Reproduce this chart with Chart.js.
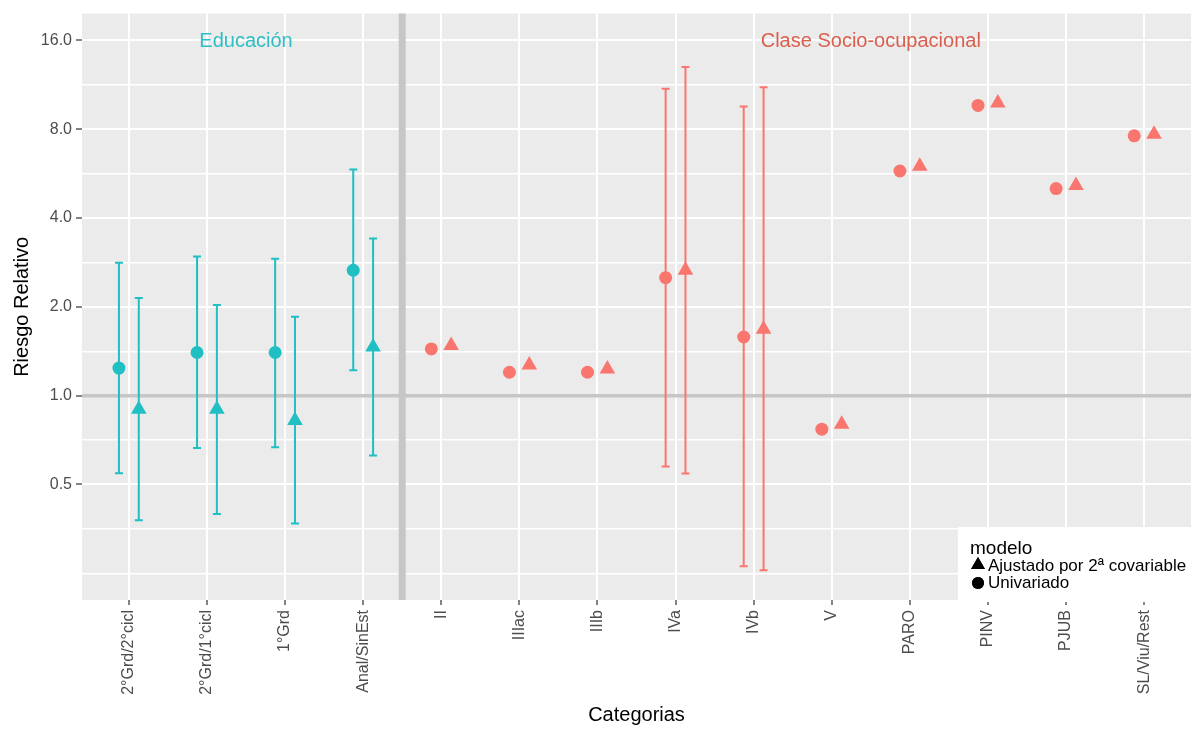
<!DOCTYPE html>
<html>
<head>
<meta charset="utf-8">
<script src="https://cdn.jsdelivr.net/npm/chart.js@4/dist/chart.umd.min.js"></script>
<style>
  body { margin: 0; background: #fff; }
</style>
</head>
<body>
<canvas id="rrChart" width="1200" height="731"></canvas>
<script>
// categorias y grupo de cada una
const categorias = ['2°Grd/2°cicl', '2°Grd/1°cicl', '1°Grd', 'Anal/SinEst', 'II', 'IIIac', 'IIIb',
    'IVa', 'IVb', 'V', 'PARO', 'PINV', 'PJUB', 'SL/Viu/Rest'];
const grupo = ['edu', 'edu', 'edu', 'edu', 'soc', 'soc', 'soc', 'soc', 'soc', 'soc', 'soc', 'soc', 'soc', 'soc'];

// modelo univariado
const univariado = [1.24, 1.40, 1.40, 2.66, 1.44, 1.20, 1.20, 2.51, 1.58, 0.77, 5.77, 9.62, 5.03, 7.59];
const uniInf = [0.546, 0.665, 0.669, 1.22, null, null, null, 0.575, 0.264, null, null, null, null, null];
const uniSup = [2.82, 2.96, 2.91, 5.84, null, null, null, 10.95, 9.55, null, null, null, null, null];

// ajustado por 2a covariable
const ajustado = [0.90, 0.90, 0.824, 1.46, 1.48, 1.27, 1.23, 2.66, 1.68, 0.80, 5.99, 9.80, 5.15, 7.69];
const ajuInf = [0.378, 0.397, 0.369, 0.627, null, null, null, 0.545, 0.256, null, null, null, null, null];
const ajuSup = [2.14, 2.03, 1.85, 3.41, null, null, null, 13.0, 11.1, null, null, null, null, null];

// ticks del eje y (log2)
const yGrid = [0.25, 0.3536, 0.5, 0.7071, 1, 1.4142, 2, 2.8284, 4, 5.6569, 8, 11.3137, 16];
const yEtiquetas = [0.5, 1, 2, 4, 8, 16];

const colores = { edu: '#1FBFC4', soc: '#F8766D' };
const colorPuntos = grupo.map(g => colores[g]);
const dodge = 0.127;

Chart.defaults.font.family = "'Liberation Sans', Arial, sans-serif";

const fondoPlugin = {
    id: 'fondo',
    beforeDraw(chart) {
        const { ctx, chartArea: a } = chart;
        ctx.save();
        ctx.fillStyle = '#fff';
        ctx.fillRect(0, 0, chart.width, chart.height);
        ctx.fillStyle = '#EBEBEB';
        ctx.fillRect(a.left, a.top, a.right - a.left, a.bottom - a.top);
        ctx.restore();
    },
    beforeDatasetsDraw(chart) {
        const { ctx, chartArea: a, scales: { x, y } } = chart;
        ctx.save();
        // lineas de referencia
        ctx.strokeStyle = '#C6C6C6';
        ctx.lineWidth = 3.5;
        ctx.beginPath();
        ctx.moveTo(a.left, y.getPixelForValue(1));
        ctx.lineTo(a.right, y.getPixelForValue(1));
        ctx.stroke();
        ctx.lineWidth = 7;
        ctx.beginPath();
        ctx.moveTo(x.getPixelForValue(3.5), a.top);
        ctx.lineTo(x.getPixelForValue(3.5), a.bottom);
        ctx.stroke();

        // barras de error
        const series = [[uniInf, uniSup, -dodge], [ajuInf, ajuSup, dodge]];
        ctx.lineWidth = 2;
        series.forEach(([inf, sup, dx]) => {
            inf.forEach((lo, i) => {
                if (lo == null) return;
                const px = x.getPixelForValue(i + dx);
                const y1 = y.getPixelForValue(lo);
                const y2 = y.getPixelForValue(sup[i]);
                ctx.strokeStyle = colorPuntos[i];
                ctx.beginPath();
                ctx.moveTo(px, y1); ctx.lineTo(px, y2);
                ctx.moveTo(px - 4, y1); ctx.lineTo(px + 4, y1);
                ctx.moveTo(px - 4, y2); ctx.lineTo(px + 4, y2);
                ctx.stroke();
            });
        });

        // titulos de grupo
        ctx.font = "20px 'Liberation Sans', Arial, sans-serif";
        ctx.textAlign = 'center';
        ctx.textBaseline = 'middle';
        ctx.fillStyle = '#2DBFC4';
        ctx.fillText('Educación', x.getPixelForValue(1.5), y.getPixelForValue(16) + 1);
        ctx.fillStyle = '#D9604F';
        ctx.fillText('Clase Socio-ocupacional', x.getPixelForValue(9.5), y.getPixelForValue(16) + 1);
        ctx.restore();
    },
    afterDraw(chart) {
        const { ctx, chartArea: a } = chart;
        ctx.save();
        // leyenda
        ctx.fillStyle = '#fff';
        ctx.fillRect(958, 527, a.right + 3 - 958, 75);
        ctx.fillStyle = '#000';
        ctx.textBaseline = 'alphabetic';
        ctx.font = "19px 'Liberation Sans', Arial, sans-serif";
        ctx.fillText('modelo', 970, 554);
        Chart.helpers.drawPoint(ctx, { pointStyle: 'triangle', radius: 8, rotation: 0, borderWidth: 0 }, 978, 565);
        ctx.fill();
        Chart.helpers.drawPoint(ctx, { pointStyle: 'circle', radius: 6, rotation: 0, borderWidth: 0 }, 978, 583);
        ctx.fill();
        ctx.font = "17px 'Liberation Sans', Arial, sans-serif";
        ctx.textBaseline = 'middle';
        ctx.fillText('Ajustado por 2ª covariable', 988, 566);
        ctx.fillText('Univariado', 988, 583);
        ctx.restore();
    }
};

new Chart(document.getElementById('rrChart'), {
    type: 'scatter',
    data: {
        datasets: [{
            label: 'Univariado',
            data: univariado.map((v, i) => ({ x: i - dodge, y: v })),
            pointStyle: 'circle',
            pointRadius: 6.5,
            pointBorderWidth: 0,
            backgroundColor: colorPuntos,
            borderColor: colorPuntos
        }, {
            label: 'Ajustado por 2ª covariable',
            data: ajustado.map((v, i) => ({ x: i + dodge, y: v })),
            pointStyle: 'triangle',
            pointRadius: 9,
            pointBorderWidth: 0,
            backgroundColor: colorPuntos,
            borderColor: colorPuntos
        }]
    },
    options: {
        responsive: false,
        animation: false,
        layout: { padding: { top: 12, right: 0, left: 0, bottom: 0 } },
        plugins: { legend: { display: false }, tooltip: { enabled: false } },
        scales: {
            x: {
                type: 'linear',
                min: -0.6,
                max: 13.6,
                afterBuildTicks: s => { s.ticks = categorias.map((c, i) => ({ value: i })); },
                afterFit: s => { s.height = 131; },
                ticks: {
                    autoSkip: false,
                    minRotation: 90,
                    maxRotation: 90,
                    padding: 5,
                    color: '#4D4D4D',
                    font: { size: 16 },
                    callback: v => categorias[v]
                },
                grid: { color: '#fff', lineWidth: 2, tickLength: 5, tickColor: '#333', tickWidth: 1.2 },
                border: { display: false },
                title: {
                    display: true, text: 'Categorias', color: '#000',
                    font: { size: 20 }, padding: { top: 4, bottom: 4 }
                }
            },
            y: {
                type: 'logarithmic',
                min: 0.203,
                max: 19.7,
                afterBuildTicks: s => { s.ticks = yGrid.map(v => ({ value: v })); },
                afterFit: s => { s.width = 82; },
                ticks: {
                    padding: 4,
                    color: '#4D4D4D',
                    font: { size: 16 },
                    callback: v => yEtiquetas.includes(v) ? v.toFixed(1) : ''
                },
                grid: {
                    color: '#fff',
                    lineWidth: c => yEtiquetas.includes(c.tick.value) ? 2 : 1.4,
                    tickLength: 6,
                    tickWidth: 1.2,
                    tickColor: c => yEtiquetas.includes(c.tick.value) ? '#333' : 'rgba(0,0,0,0)'
                },
                border: { display: false },
                title: {
                    display: true, text: 'Riesgo Relativo', color: '#000',
                    font: { size: 20 }, padding: { top: 10, bottom: 4 }
                }
            }
        }
    },
    plugins: [fondoPlugin]
});
</script>
</body>
</html>
